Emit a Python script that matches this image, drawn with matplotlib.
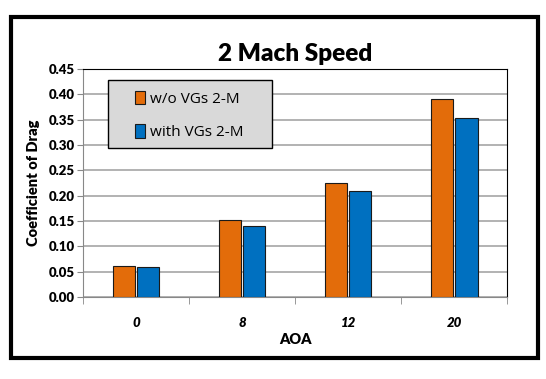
import matplotlib.pyplot as plt
import matplotlib.patches as mpatches
import numpy as np

plt.rcParams['font.family'] = ['Lato', 'DejaVu Sans']

aoa = ['0', '8', '12', '20']
cd_without = [0.061, 0.152, 0.225, 0.390]
cd_with = [0.059, 0.141, 0.210, 0.354]
yticks = [0.00, 0.05, 0.10, 0.15, 0.20, 0.25, 0.30, 0.35, 0.40, 0.45]

fig = plt.figure(figsize=(5.46, 3.79), dpi=100)
ax = fig.add_axes([0.152, 0.216, 0.777, 0.602])

x = np.arange(len(aoa))
w = 0.21
ax.bar(x - w/2 - 0.01, cd_without, w, color='#E36C0A', edgecolor='#1a1a1a', linewidth=0.8,
       label='w/o VGs 2-M', zorder=3)
ax.bar(x + w/2 + 0.01, cd_with, w, color='#0070C0', edgecolor='#1a1a1a', linewidth=0.8,
       label='with VGs 2-M', zorder=3)

ax.set_xlim(-0.5, 3.5)
ax.set_ylim(0, 0.45)
ax.set_yticks(yticks)
ax.set_yticklabels(['%.2f' % v for v in yticks], fontweight='heavy', fontsize=9.5)
ax.set_xticks(x)
ax.set_xticklabels(aoa, fontweight='heavy', fontstyle='italic', fontsize=9.5)
ax.tick_params(axis='x', length=0, pad=14)
ax.set_xticks([-0.5, 0.5, 1.5, 2.5, 3.5], minor=True)
ax.tick_params(axis='x', which='minor', length=5, color='#888888', direction='out')
ax.tick_params(axis='y', length=4, color='#888888', pad=2)
ax.yaxis.grid(True, color='#a6a6a6', linewidth=1.2, zorder=0)
ax.set_axisbelow(True)

ax.spines['left'].set_color('#888888')
ax.spines['bottom'].set_color('#888888')
ax.spines['top'].set_color('black')
ax.spines['right'].set_color('black')

ax.set_title('2 Mach Speed', fontsize=17.5, fontweight='heavy', pad=6)
ax.set_xlabel('AOA', fontsize=10.5, fontweight='heavy', labelpad=3)
ax.set_ylabel('Coefficient of Drag', fontsize=10.5, fontweight='heavy', labelpad=6)

# legend box drawn separately so the padding can be uneven
ax.add_patch(mpatches.Rectangle((0.059, 0.654), 0.387, 0.298, transform=ax.transAxes,
                                facecolor='#d9d9d9', edgecolor='black', linewidth=1.0, zorder=4))
leg = ax.legend(loc='upper left', bbox_to_anchor=(0.122, 0.905), frameon=False,
                fontsize=11, handlelength=0.7, handleheight=1.0, labelspacing=1.15,
                borderpad=0, handletextpad=0.3, borderaxespad=0)
leg.set_zorder(5)
for t in leg.get_texts():
    t.set_fontfamily('Open Sans')

fig.patches.append(mpatches.Rectangle((0.02, 0.055), 0.965, 0.9, transform=fig.transFigure,
                                      fill=False, edgecolor='black', linewidth=3))

fig.savefig('out.png', dpi=100)
